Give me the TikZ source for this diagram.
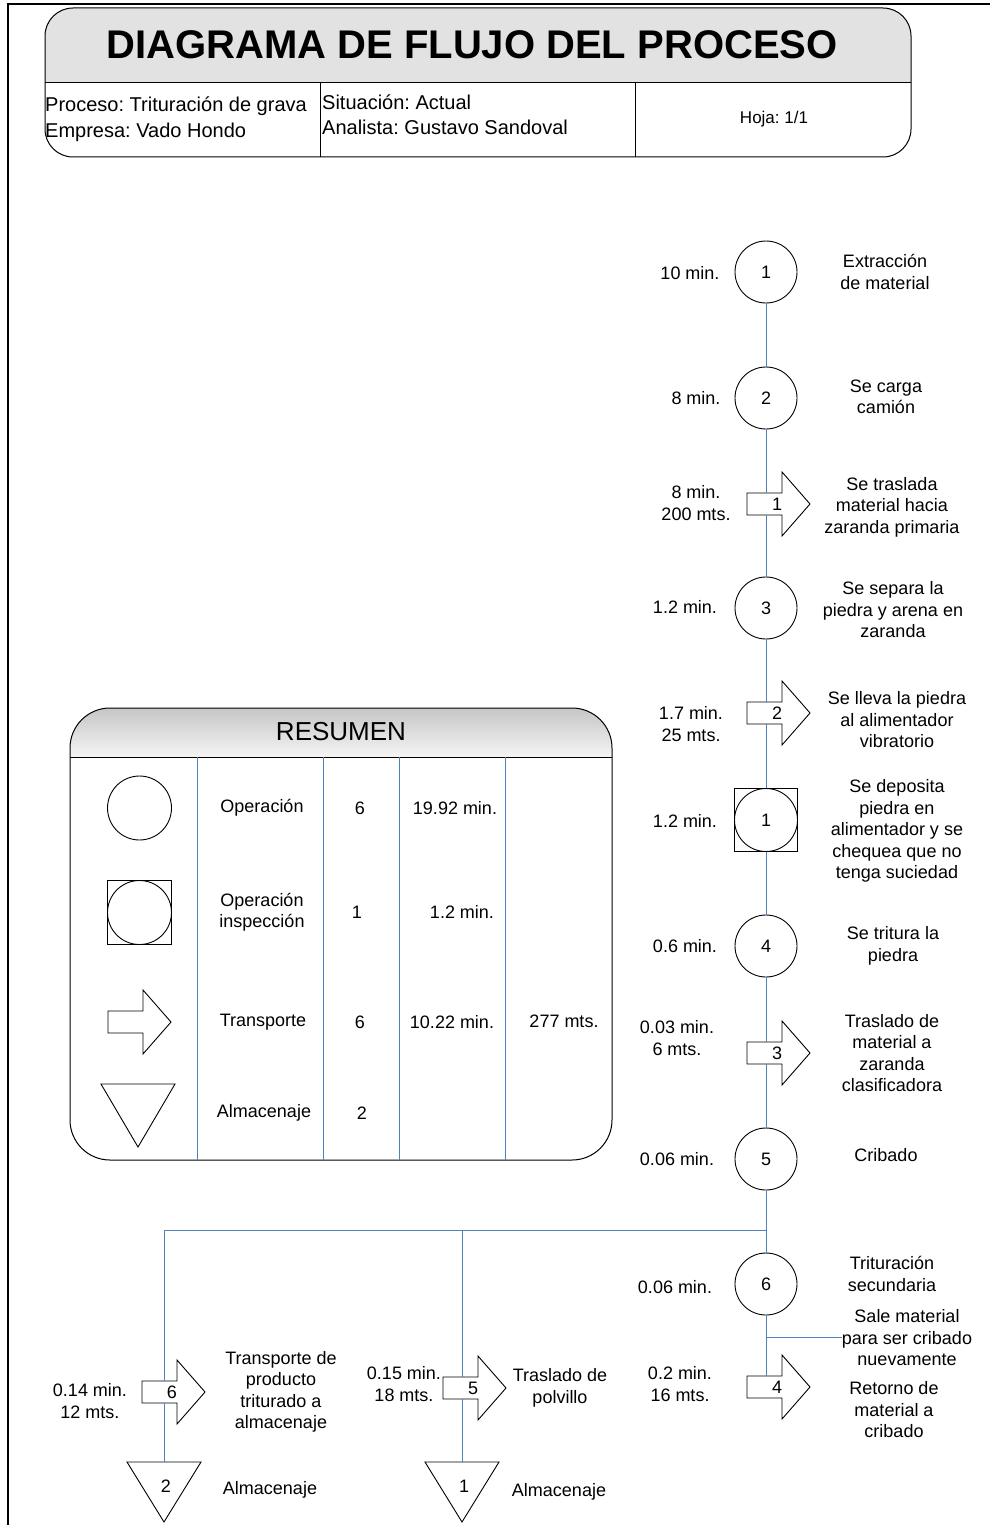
\documentclass[tikz,border=0pt]{standalone}
\usepackage{fontspec}
\setmainfont{Liberation Sans}
\usetikzlibrary{calc}
\frenchspacing
\definecolor{flowblue}{RGB}{79,129,189}
\definecolor{hdrgray}{RGB}{226,226,226}
\tikzset{
  shp/.style={draw=black, line width=0.9pt, fill=white},
  flow/.style={draw=flowblue, line width=1pt},
  lbl/.style={font=\fontsize{18}{21.5}\selectfont, align=center, inner sep=0pt},
  num/.style={font=\fontsize{18}{21.5}\selectfont, inner sep=0pt},
  op/.style={circle, draw=black, line width=0.9pt, fill=white, minimum size=62pt, inner sep=0pt, font=\fontsize{18}{21.5}\selectfont},
  insp/.style={rectangle, draw=black, line width=0.9pt, fill=white, minimum size=63pt, inner sep=0pt, font=\fontsize{18}{21.5}\selectfont,
    path picture={\draw[line width=0.9pt] (path picture bounding box.center) circle (31.5pt);}},
  bodybox/.style={inner sep=0pt, minimum width=35pt, minimum height=22pt}
}
\newcommand\transp[4]{%
  \draw[shp] (#2,#3) ++(0,-11) -- ++(35,0) -- ++(0,-21) -- ++(28,32) -- ++(-28,32) -- ++(0,-21) -- ++(-35,0) -- cycle;
  \node[bodybox] (#1) at (#2+17.5,#3) {};
  \node[num] (#1n) at (#2+30,#3) {#4};
}
\newcommand\store[4]{%
  \draw[shp] (#2-37,#3) -- (#2+37,#3) -- (#2,#3+60) -- cycle;
  \coordinate (#1) at (#2,#3);
  \node[num] (#1n) at (#2+2,#3+24) {#4};
}
\begin{document}
\begin{tikzpicture}[x=1pt,y=-1pt]
\useasboundingbox (0,0) rectangle (990,1525);
% outer frame
\draw[line width=2pt] (8,1525) -- (8,4) -- (990,4);

% ---------- header ----------
\begin{scope}
  \clip[rounded corners=28pt] (45,8) rectangle (911,157);
  \fill[hdrgray] (45,8) rectangle (911,83);
\end{scope}
\draw[line width=1pt, rounded corners=28pt] (45,8) rectangle (911,157);
\draw[line width=1pt] (45,83) -- (911,83);
\draw[line width=1pt] (320,83) -- (320,157);
\draw[line width=1pt] (635,83) -- (635,157);
\node[font=\bfseries\fontsize{40}{45}\selectfont, inner sep=0pt] (title) at (472,45) {DIAGRAMA DE FLUJO DEL PROCESO};
\node[font=\fontsize{20}{23}\selectfont, anchor=base west, inner sep=0pt] (proc) at (45,112) {Proceso: Trituración de grava};
\node[font=\fontsize{20}{23}\selectfont, anchor=base west, inner sep=0pt] (emp) at (45,138) {Empresa: Vado Hondo};
\node[font=\fontsize{20}{23}\selectfont, anchor=base west, inner sep=0pt] (sit) at (322,110) {Situación: Actual};
\node[font=\fontsize{20}{23}\selectfont, anchor=base west, inner sep=0pt] (ana) at (322,135) {Analista: Gustavo Sandoval};
\node[font=\fontsize{17}{20}\selectfont, inner sep=0pt] (hoja) at (774,119) {Hoja: 1/1};

% ---------- main flow coordinates ----------
\coordinate (j) at (766,1230);
\coordinate (jL) at (164,1230);
\coordinate (jM) at (462,1230);
\coordinate (b) at (766,1337);
\coordinate (bE) at (842,1337);

% ---------- main column shapes ----------
\node[op] (c1) at (766,272) {1};
\node[op] (c2) at (766,398) {2};
\transp{t1}{747}{504}{1}
\node[op] (c3) at (766,608) {3};
\transp{t2}{747}{713}{2}
\node[insp] (i1) at (766,820) {1};
\node[op] (c4) at (766,946) {4};
\transp{t3}{747}{1053}{3}
\node[op] (c5) at (766,1159) {5};
\node[op] (c6) at (766,1284) {6};
\transp{t4}{747}{1387}{4}

% branches
\transp{t6}{142}{1392}{6}
\transp{t5}{443}{1388}{5}
\store{s2}{164}{1462}{2}
\store{s1}{462}{1462}{1}

% connectors
\draw[flow] (c1) -- (c2);
\draw[flow] (c2) -- (t1.north -| c2);
\draw[flow] (t1.south -| c2) -- (c3);
\draw[flow] (c3) -- (t2.north -| c3);
\draw[flow] (t2.south -| c3) -- (i1);
\draw[flow] (i1) -- (c4);
\draw[flow] (c4) -- (t3.north -| c4);
\draw[flow] (t3.south -| c4) -- (c5);
\draw[flow] (c5) -- (c6);
\draw[flow] (c6) -- (t4.north -| c6);
\draw[flow] (b) -- (bE);
\draw[flow] (j) -- (jL) -- (t6.north -| jL);
\draw[flow] (t6.south -| jL) -- (s2);
\draw[flow] (jM) -- (t5.north -| jM);
\draw[flow] (t5.south -| jM) -- (s1);

% ---------- left labels ----------
\node[lbl] (l1) at (690,273) {10 min.};
\node[lbl] (l2) at (696,398) {8 min.};
\node[lbl] (l3) at (696,503) {8 min.\\200 mts.};
\node[lbl] (l4) at (685,607) {1.2 min.};
\node[lbl] (l5) at (691,724) {1.7 min.\\25 mts.};
\node[lbl] (l6) at (685,821) {1.2 min.};
\node[lbl] (l7) at (685,946) {0.6 min.};
\node[lbl] (l8) at (677,1038) {0.03 min.\\6 mts.};
\node[lbl] (l9) at (677,1159) {0.06 min.};
\node[lbl] (l10) at (675,1287) {0.06 min.};
\node[lbl] (l11) at (680,1384) {0.2 min.\\16 mts.};
\node[lbl] (l12) at (90,1401) {0.14 min.\\12 mts.};
\node[lbl] (l13) at (404,1384) {0.15 min.\\18 mts.};

% ---------- right labels ----------
\node[lbl] (r1) at (885,272) {Extracción\\de material};
\node[lbl] (r2) at (886,397) {Se carga\\camión};
\node[lbl] (r3) at (892,507) {Se traslada\\material hacia\\zaranda primaria};
\node[lbl] (r4) at (893,610) {Se separa la\\piedra y arena en\\zaranda};
\node[lbl] (r5) at (897,720) {Se lleva la piedra\\al alimentador\\vibratorio};
\node[lbl] (r6) at (897,831) {Se deposita\\piedra en\\alimentador y se\\chequea que no\\tenga suciedad};
\node[lbl] (r7) at (893,946) {Se tritura la\\piedra};
\node[lbl] (r8) at (892,1053) {Traslado de\\material a\\zaranda\\clasificadora};
\node[lbl] (r9) at (886,1155) {Cribado};
\node[lbl] (r10) at (892,1274) {Trituración\\secundaria};
\node[lbl] (r11) at (907,1338) {Sale material\\para ser cribado\\nuevamente};
\node[lbl] (r12) at (894,1410) {Retorno de\\material a\\cribado};
\node[lbl] (r13) at (281,1392) {Transporte de\\producto\\triturado a\\almacenaje};
\node[lbl] (r14) at (560,1388) {Traslado de\\polvillo};
\node[lbl] (r15) at (270,1490) {Almacenaje};
\node[lbl] (r16) at (559,1492) {Almacenaje};

% ---------- summary box ----------
\begin{scope}
  \clip[rounded corners=40pt] (70,708) rectangle (612,1160);
  \shade[top color=gray!45, bottom color=gray!8] (70,708) rectangle (612,757);
\end{scope}
\draw[line width=1pt, rounded corners=40pt] (70,708) rectangle (612,1160);
\draw[line width=1pt] (70,757) -- (612,757);
\node[font=\fontsize{26}{30}\selectfont, inner sep=0pt] (resumen) at (341,732) {RESUMEN};
\foreach \xx in {197,323,399,505} {\draw[flow] (\xx,757) -- (\xx,1160);}
% symbols
\node[op, minimum size=64pt] (sop) at (139.5,808) {};
\node[insp, minimum size=64pt, path picture={\draw[line width=0.9pt] (path picture bounding box.center) circle (32pt);}] (sinsp) at (139.5,912.5) {};
\transp{stra}{108}{1022}{}
\draw[shp] (101,1084) -- (175,1084) -- (138,1147) -- cycle;
\coordinate (salm) at (138,1084);
% texts
\node[lbl] (sa1) at (262,808) {Operación};
\node[lbl] (sa2) at (262,912) {Operación\\inspección};
\node[lbl] (sa3) at (263,1022) {Transporte};
\node[lbl] (sa4) at (264,1113) {Almacenaje};
\node[lbl] (sb1) at (360,808) {6};
\node[lbl] (sb2) at (357,912) {1};
\node[lbl] (sb3) at (360,1022) {6};
\node[lbl] (sb4) at (362,1113) {2};
\node[lbl] (sc1) at (455,808) {19.92 min.};
\node[lbl] (sc2) at (462,912) {1.2 min.};
\node[lbl] (sc3) at (452,1022) {10.22 min.};
\node[lbl] (sd3) at (564,1021) {277 mts.};
\end{tikzpicture}
\end{document}
